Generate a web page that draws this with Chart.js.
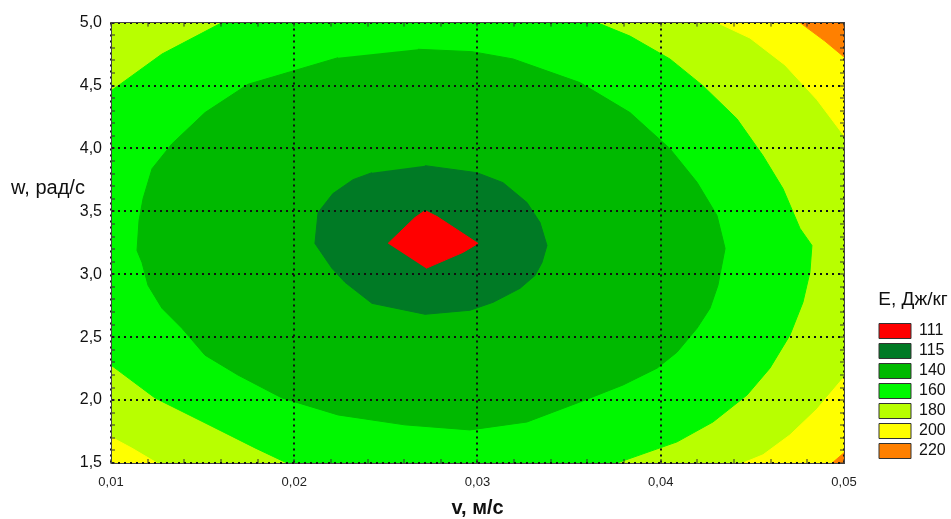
<!DOCTYPE html>
<html>
<head>
<meta charset="utf-8">
<script src="https://cdn.jsdelivr.net/npm/chart.js@4.4.1/dist/chart.umd.min.js"></script>
<style>
  html, body { margin: 0; padding: 0; background: #ffffff; }
  #wrap { position: relative; width: 951px; height: 519px; }
</style>
</head>
<body>
<div id="wrap"><canvas id="c"></canvas></div>
<script>
// ---------- data ----------
const levels = ['111', '115', '140', '160', '180', '200', '220'];
const legendTitle = 'E, Дж/кг';
const xTitle = 'v, м/с';
const yTitle = 'w, рад/с';
const xRange = [0.01, 0.05];
const yRange = [1.5, 5.0];

// contour regions as [v, w] vertices
const region111 = [[0.02512,3.245],[0.02659,3.451],[0.02714,3.506],[0.02779,3.459],[0.03003,3.245],[0.02921,3.174],[0.02719,3.047]];
const region115 = [[0.02714,3.863],[0.02997,3.807],[0.03139,3.728],[0.03270,3.570],[0.03341,3.411],[0.03379,3.229],[0.03352,3.094],[0.03314,2.991],[0.03232,2.888],[0.03085,2.777],[0.02959,2.714],[0.02714,2.682],[0.02424,2.769],[0.02277,2.936],[0.02206,3.047],[0.02113,3.245],[0.02130,3.490],[0.02211,3.641],[0.02321,3.752],[0.02424,3.807]];
const region140 = [[0.02675,4.788],[0.02970,4.769],[0.03194,4.711],[0.03559,4.523],[0.03832,4.285],[0.04050,3.998],[0.04198,3.731],[0.04307,3.467],[0.04351,3.205],[0.04312,2.912],[0.04269,2.730],[0.04198,2.571],[0.04089,2.381],[0.03980,2.254],[0.03794,2.120],[0.03559,1.985],[0.03270,1.826],[0.02959,1.763],[0.02604,1.803],[0.02239,1.882],[0.01933,2.017],[0.01693,2.199],[0.01513,2.357],[0.01387,2.571],[0.01278,2.730],[0.01202,2.912],[0.01169,3.094],[0.01142,3.189],[0.01153,3.427],[0.01175,3.601],[0.01224,3.839],[0.01333,4.037],[0.01513,4.285],[0.01748,4.510],[0.02239,4.721]];
const region160 = [[0.01,4.457],[0.01278,4.750],[0.01606,5.0],[0.020,5.15],[0.027,5.2],[0.034,5.15],[0.03652,5.0],[0.03832,4.893],[0.04050,4.711],[0.04231,4.497],[0.04416,4.235],[0.04558,3.942],[0.04667,3.681],[0.04760,3.364],[0.04825,3.229],[0.04814,3.015],[0.04776,2.777],[0.04705,2.516],[0.04596,2.254],[0.04471,2.040],[0.04285,1.826],[0.04089,1.668],[0.03761,1.5],[0.034,1.38],[0.027,1.33],[0.021,1.38],[0.01960,1.5],[0.01786,1.620],[0.01513,1.819],[0.01240,2.017],[0.01,2.278],[0.0085,2.7],[0.008,3.3],[0.0085,3.9]];
const region200BL = [[0.01,1.707],[0.01115,1.617],[0.01251,1.5],[0.01,1.5]];
const region200TR = [[0.04307,5.0],[0.04487,4.877],[0.04678,4.663],[0.04853,4.386],[0.05,4.101],[0.05,5.0]];
const region200BR = [[0.05,2.183],[0.04853,1.929],[0.04705,1.723],[0.04558,1.565],[0.04449,1.5],[0.05,1.5]];
const region220TR = [[0.04760,5.0],[0.04896,4.853],[0.05,4.727],[0.05,5.0]];
const region220BR = [[0.04935,1.5],[0.05,1.581],[0.05,1.5]];

// ---------- styles ----------
const bandColors = ['#ff0000', '#007a25', '#00b900', '#00f800', '#b8ff00', '#ffff00', '#ff8000'];
const FONT = "'Liberation Sans', Arial, sans-serif";
Chart.defaults.font.family = FONT;

function poly(points, ci) {
  return {
    data: points.map(p => ({ x: p[0], y: p[1] })),
    showLine: true,
    fill: 'shape',
    backgroundColor: bandColors[ci],
    borderColor: bandColors[ci],
    borderWidth: 1,
    pointRadius: 0,
    pointHoverRadius: 0,
    tension: 0
  };
}

// datasets: index 0 is painted last (on top)
const datasets = [
  poly(region111, 0),
  poly(region115, 1),
  poly(region140, 2),
  poly(region160, 3),
  poly(region220TR, 6),
  poly(region220BR, 6),
  poly(region200BL, 5),
  poly(region200TR, 5),
  poly(region200BR, 5)
];

const isMajorX = v => Math.round(v * 1000) % 10 === 0;
const isMajorY = v => Math.round(v * 10) % 5 === 0;
const fmt = (v, d) => Number(v).toFixed(d).replace('.', ',');

const plotBackground = {
  id: 'plotBackground',
  beforeDatasetsDraw(chart) {
    const { ctx, chartArea: a } = chart;
    ctx.save();
    ctx.fillStyle = bandColors[4];
    ctx.fillRect(a.left, a.top, a.right - a.left, a.bottom - a.top);
    ctx.restore();
  }
};

const horizontalYTitle = {
  id: 'horizontalYTitle',
  afterDraw(chart) {
    const { ctx, chartArea: a } = chart;
    ctx.save();
    ctx.font = '20px ' + FONT;
    ctx.fillStyle = '#111';
    ctx.textAlign = 'left';
    ctx.textBaseline = 'middle';
    ctx.fillText(yTitle, 11, a.top + 166);
    ctx.restore();
  }
};

function gridOpts(isMajor, onArea) {
  return {
    z: 1,
    drawOnChartArea: onArea,
    color: c => (c.tick && isMajor(c.tick.value)) ? '#111' : 'rgba(0,0,0,0)',
    lineWidth: 2,
    drawTicks: true,
    tickLength: -4,
    tickWidth: 1,
    tickColor: '#333',
    tickBorderDash: []
  };
}
const borderOpts = { z: 1, display: true, color: '#444', width: 1, dash: [2, 4] };

new Chart(document.getElementById('c'), {
  type: 'scatter',
  data: { datasets },
  plugins: [plotBackground, horizontalYTitle],
  options: {
    responsive: true,
    maintainAspectRatio: false,
    animation: false,
    events: [],
    layout: { padding: 0 },
    scales: {
      x: {
        type: 'linear', position: 'bottom', min: xRange[0], max: xRange[1],
        ticks: { stepSize: 0.002, maxTicksLimit: 200, autoSkip: false, maxRotation: 0, minRotation: 0,
                 padding: 16, color: '#222', font: { size: 13 },
                 callback: v => isMajorX(v) ? fmt(v, 2) : '' },
        grid: gridOpts(isMajorX, true),
        border: borderOpts,
        title: { display: true, text: xTitle, color: '#111', font: { size: 20, weight: 'bold', lineHeight: 1.1 }, padding: { top: 0, bottom: 0 } },
        afterFit: s => { s.height = 56; }
      },
      y: {
        type: 'linear', position: 'left', min: yRange[0], max: yRange[1],
        ticks: { stepSize: 0.1, maxTicksLimit: 200, autoSkip: false, padding: 13, color: '#111', font: { size: 16 },
                 callback: v => isMajorY(v) ? fmt(v, 1) : '' },
        grid: gridOpts(isMajorY, true),
        border: borderOpts,
        afterFit: s => { s.width = 111; }
      },
      x2: {
        type: 'linear', axis: 'x', position: 'top', min: xRange[0], max: xRange[1],
        ticks: { stepSize: 0.002, maxTicksLimit: 200, autoSkip: false, display: false },
        grid: Object.assign(gridOpts(isMajorX, false), { color: 'rgba(0,0,0,0)' }),
        border: { z: 1, display: true, color: '#444', width: 1 },
        afterFit: s => { s.height = 21; }
      },
      y2: {
        type: 'linear', axis: 'y', position: 'right', min: yRange[0], max: yRange[1],
        ticks: { stepSize: 0.1, maxTicksLimit: 200, autoSkip: false, display: false },
        grid: Object.assign(gridOpts(isMajorY, false), { color: 'rgba(0,0,0,0)' }),
        border: { z: 1, display: true, color: '#444', width: 1 },
        afterFit: s => { s.width = 31; }
      }
    },
    plugins: {
      tooltip: { enabled: false },
      legend: {
        display: true, position: 'right', align: 'end', fullSize: false, maxWidth: 76,
        labels: {
          boxWidth: 32, boxHeight: 15, padding: 4, color: '#111', font: { size: 16 },
          generateLabels: () => levels.map((t, i) => ({
            text: t, fillStyle: bandColors[i], strokeStyle: '#333', lineWidth: 1, hidden: false, index: i
          }))
        },
        title: { display: true, text: legendTitle, color: '#111', font: { size: 19 }, padding: { top: 0, bottom: 6 } }
      }
    }
  }
});
</script>
</body>
</html>
